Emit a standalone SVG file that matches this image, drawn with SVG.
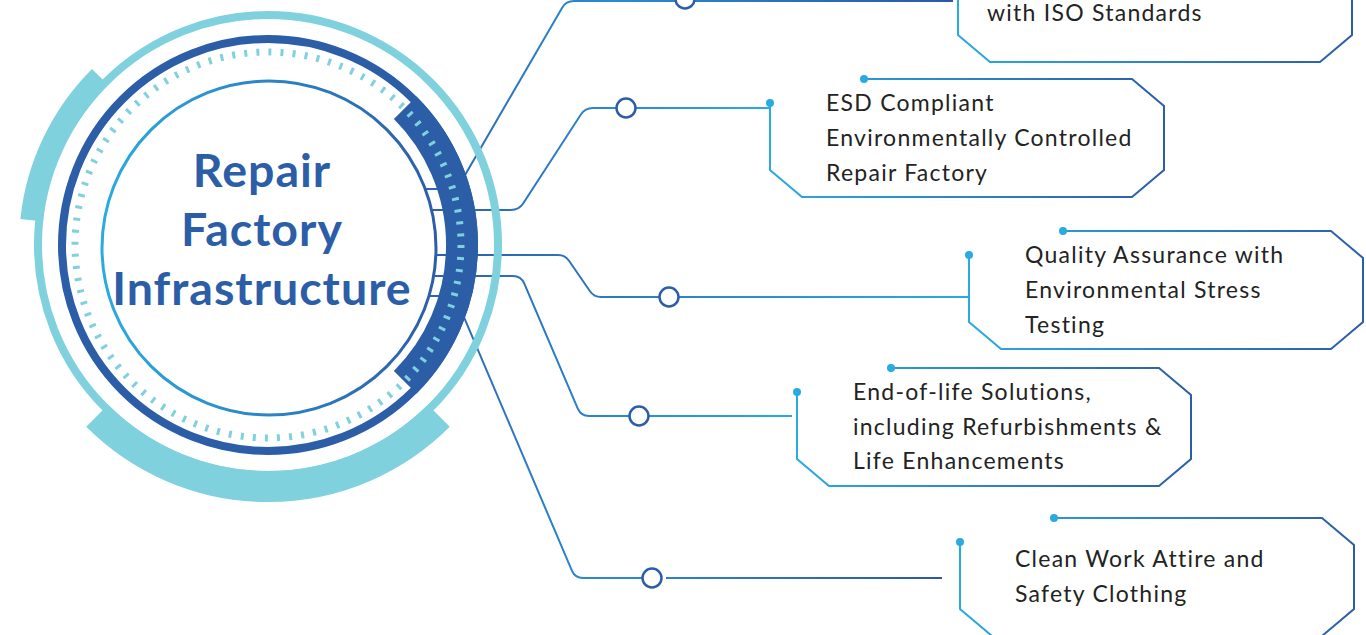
<svg xmlns="http://www.w3.org/2000/svg" width="1366" height="635" viewBox="0 0 1366 635">
<defs>
<linearGradient id="gBox" x1="0" y1="0" x2="1" y2="0"><stop offset="0" stop-color="#2aaae2"/><stop offset="1" stop-color="#2c5ea8"/></linearGradient>
<linearGradient id="gConL" x1="0" y1="0" x2="1" y2="0"><stop offset="0" stop-color="#2c5ea8"/><stop offset="0.5" stop-color="#2b86cf"/><stop offset="1" stop-color="#29abe2"/></linearGradient>
<linearGradient id="gConD" x1="0" y1="0" x2="1" y2="0"><stop offset="0" stop-color="#2c64b0"/><stop offset="0.35" stop-color="#2b8bd4"/><stop offset="1" stop-color="#2c58a6"/></linearGradient>
<linearGradient id="gInner" x1="0" y1="0" x2="1" y2="0"><stop offset="0" stop-color="#29abe2"/><stop offset="1" stop-color="#2c5ea8"/></linearGradient>
</defs>
<style>
.con{fill:none;stroke-width:2;stroke-linejoin:round}
.hole{fill:#fff;stroke:#2c5ea8;stroke-width:2.5}
.box{fill:none;stroke:url(#gBox);stroke-width:2}
.dot{fill:#29abe2}
.txt{font-family:Lato,"Liberation Sans",sans-serif;font-size:23px;letter-spacing:1.25px;fill:#232323}
.title{font-family:Lato,"Liberation Sans",sans-serif;font-weight:700;font-size:46.5px;letter-spacing:1px;fill:#2c5ea8;text-anchor:middle}
.light{fill:none;stroke:#7fd1de}
.dark{fill:none;stroke:#2c5ea8}
</style>
<rect width="1366" height="635" fill="#fff"/>
<g id="connectors">
<path class="con" stroke="url(#gConD)" d="M425,189 H449 Q457,189 461,182.1 L562,7.9 Q566,1 574,1 H675 M695,1 H953"/>
<path class="con" stroke="url(#gConL)" d="M425,210 H511 Q519,210 523.3,203.3 L580.7,114.7 Q585,108 593,108 H770"/>
<path class="con" stroke="url(#gConL)" d="M425,255 H558 Q565,255 569,260.8 L590,291.2 Q594,297 601,297 H969"/>
<path class="con" stroke="url(#gConL)" d="M425,276 H513 Q521,276 524.2,283.4 L577.8,408.6 Q581,416 589,416 H792"/>
<path class="con" stroke="url(#gConD)" d="M425,296 H447 Q455,296 458.1,303.4 L571.9,570.6 Q575,578 583,578 H643 M666,578 H942"/>
<circle class="hole" cx="685" cy="-1" r="9.5"/>
<circle class="hole" cx="626" cy="108" r="9.5"/>
<circle class="hole" cx="669" cy="297" r="9.5"/>
<circle class="hole" cx="639" cy="416" r="9.5"/>
<circle class="hole" cx="652" cy="578" r="9.5"/>
</g>
<g id="node-center">
<circle class="light" cx="268" cy="245" r="230" stroke-width="8"/>
<path class="light" stroke-width="21" d="M30.8,220.1 A238.5,238.5 0 0 1 99.4,76.4"/>
<path class="light" stroke-width="31" d="M438.8,415.8 A241.5,241.5 0 0 1 97.2,415.8"/>
<circle class="dark" cx="268" cy="245" r="206" stroke-width="8"/>
<path class="dark" stroke-width="32" d="M405.2,107.8 A194,194 0 0 1 405.2,382.2"/>
<circle cx="268" cy="245" r="193" fill="none" stroke="#7fd1de" stroke-width="7" stroke-dasharray="3 9.127"/>
<circle cx="269" cy="248" r="167" fill="#fff" stroke="url(#gInner)" stroke-width="3"/>
<text class="title" x="262" y="187">Repair</text>
<text class="title" x="262" y="246">Factory</text>
<text class="title" x="262" y="305">Infrastructure</text>
</g>
<g id="node-iso">
<path class="box" d="M958,-32 V35 L990,62 H1320 L1352,35 V-29 L1320,-56 H1052"/>
<text class="txt" x="987" y="21">with ISO Standards</text>
</g>
<g id="node-esd">
<path class="box" d="M770,103 V170 L802,197 H1132 L1164,170 V106 L1132,79 H864"/>
<circle class="dot" cx="770" cy="103" r="4"/><circle class="dot" cx="864" cy="79" r="4"/>
<text class="txt" x="826" y="111">ESD Compliant</text>
<text class="txt" x="826" y="146">Environmentally Controlled</text>
<text class="txt" x="826" y="181">Repair Factory</text>
</g>
<g id="node-qa">
<path class="box" d="M969,255 V322 L1001,349 H1331 L1363,322 V258 L1331,231 H1063"/>
<circle class="dot" cx="969" cy="255" r="4"/><circle class="dot" cx="1063" cy="231" r="4"/>
<text class="txt" x="1025" y="263">Quality Assurance with</text>
<text class="txt" x="1025" y="298">Environmental Stress</text>
<text class="txt" x="1025" y="333">Testing</text>
</g>
<g id="node-eol">
<path class="box" d="M797,392 V459 L829,486 H1159 L1191,459 V395 L1159,368 H891"/>
<circle class="dot" cx="797" cy="392" r="4"/><circle class="dot" cx="891" cy="368" r="4"/>
<text class="txt" x="853" y="400">End-of-life Solutions,</text>
<text class="txt" x="853" y="435">including Refurbishments &amp;</text>
<text class="txt" x="853" y="469">Life Enhancements</text>
</g>
<g id="node-attire">
<path class="box" d="M960,542 V609 L992,636 H1322 L1354,609 V545 L1322,518 H1054"/>
<circle class="dot" cx="960" cy="542" r="4"/><circle class="dot" cx="1054" cy="518" r="4"/>
<text class="txt" x="1015" y="567">Clean Work Attire and</text>
<text class="txt" x="1015" y="602">Safety Clothing</text>
</g>
</svg>
